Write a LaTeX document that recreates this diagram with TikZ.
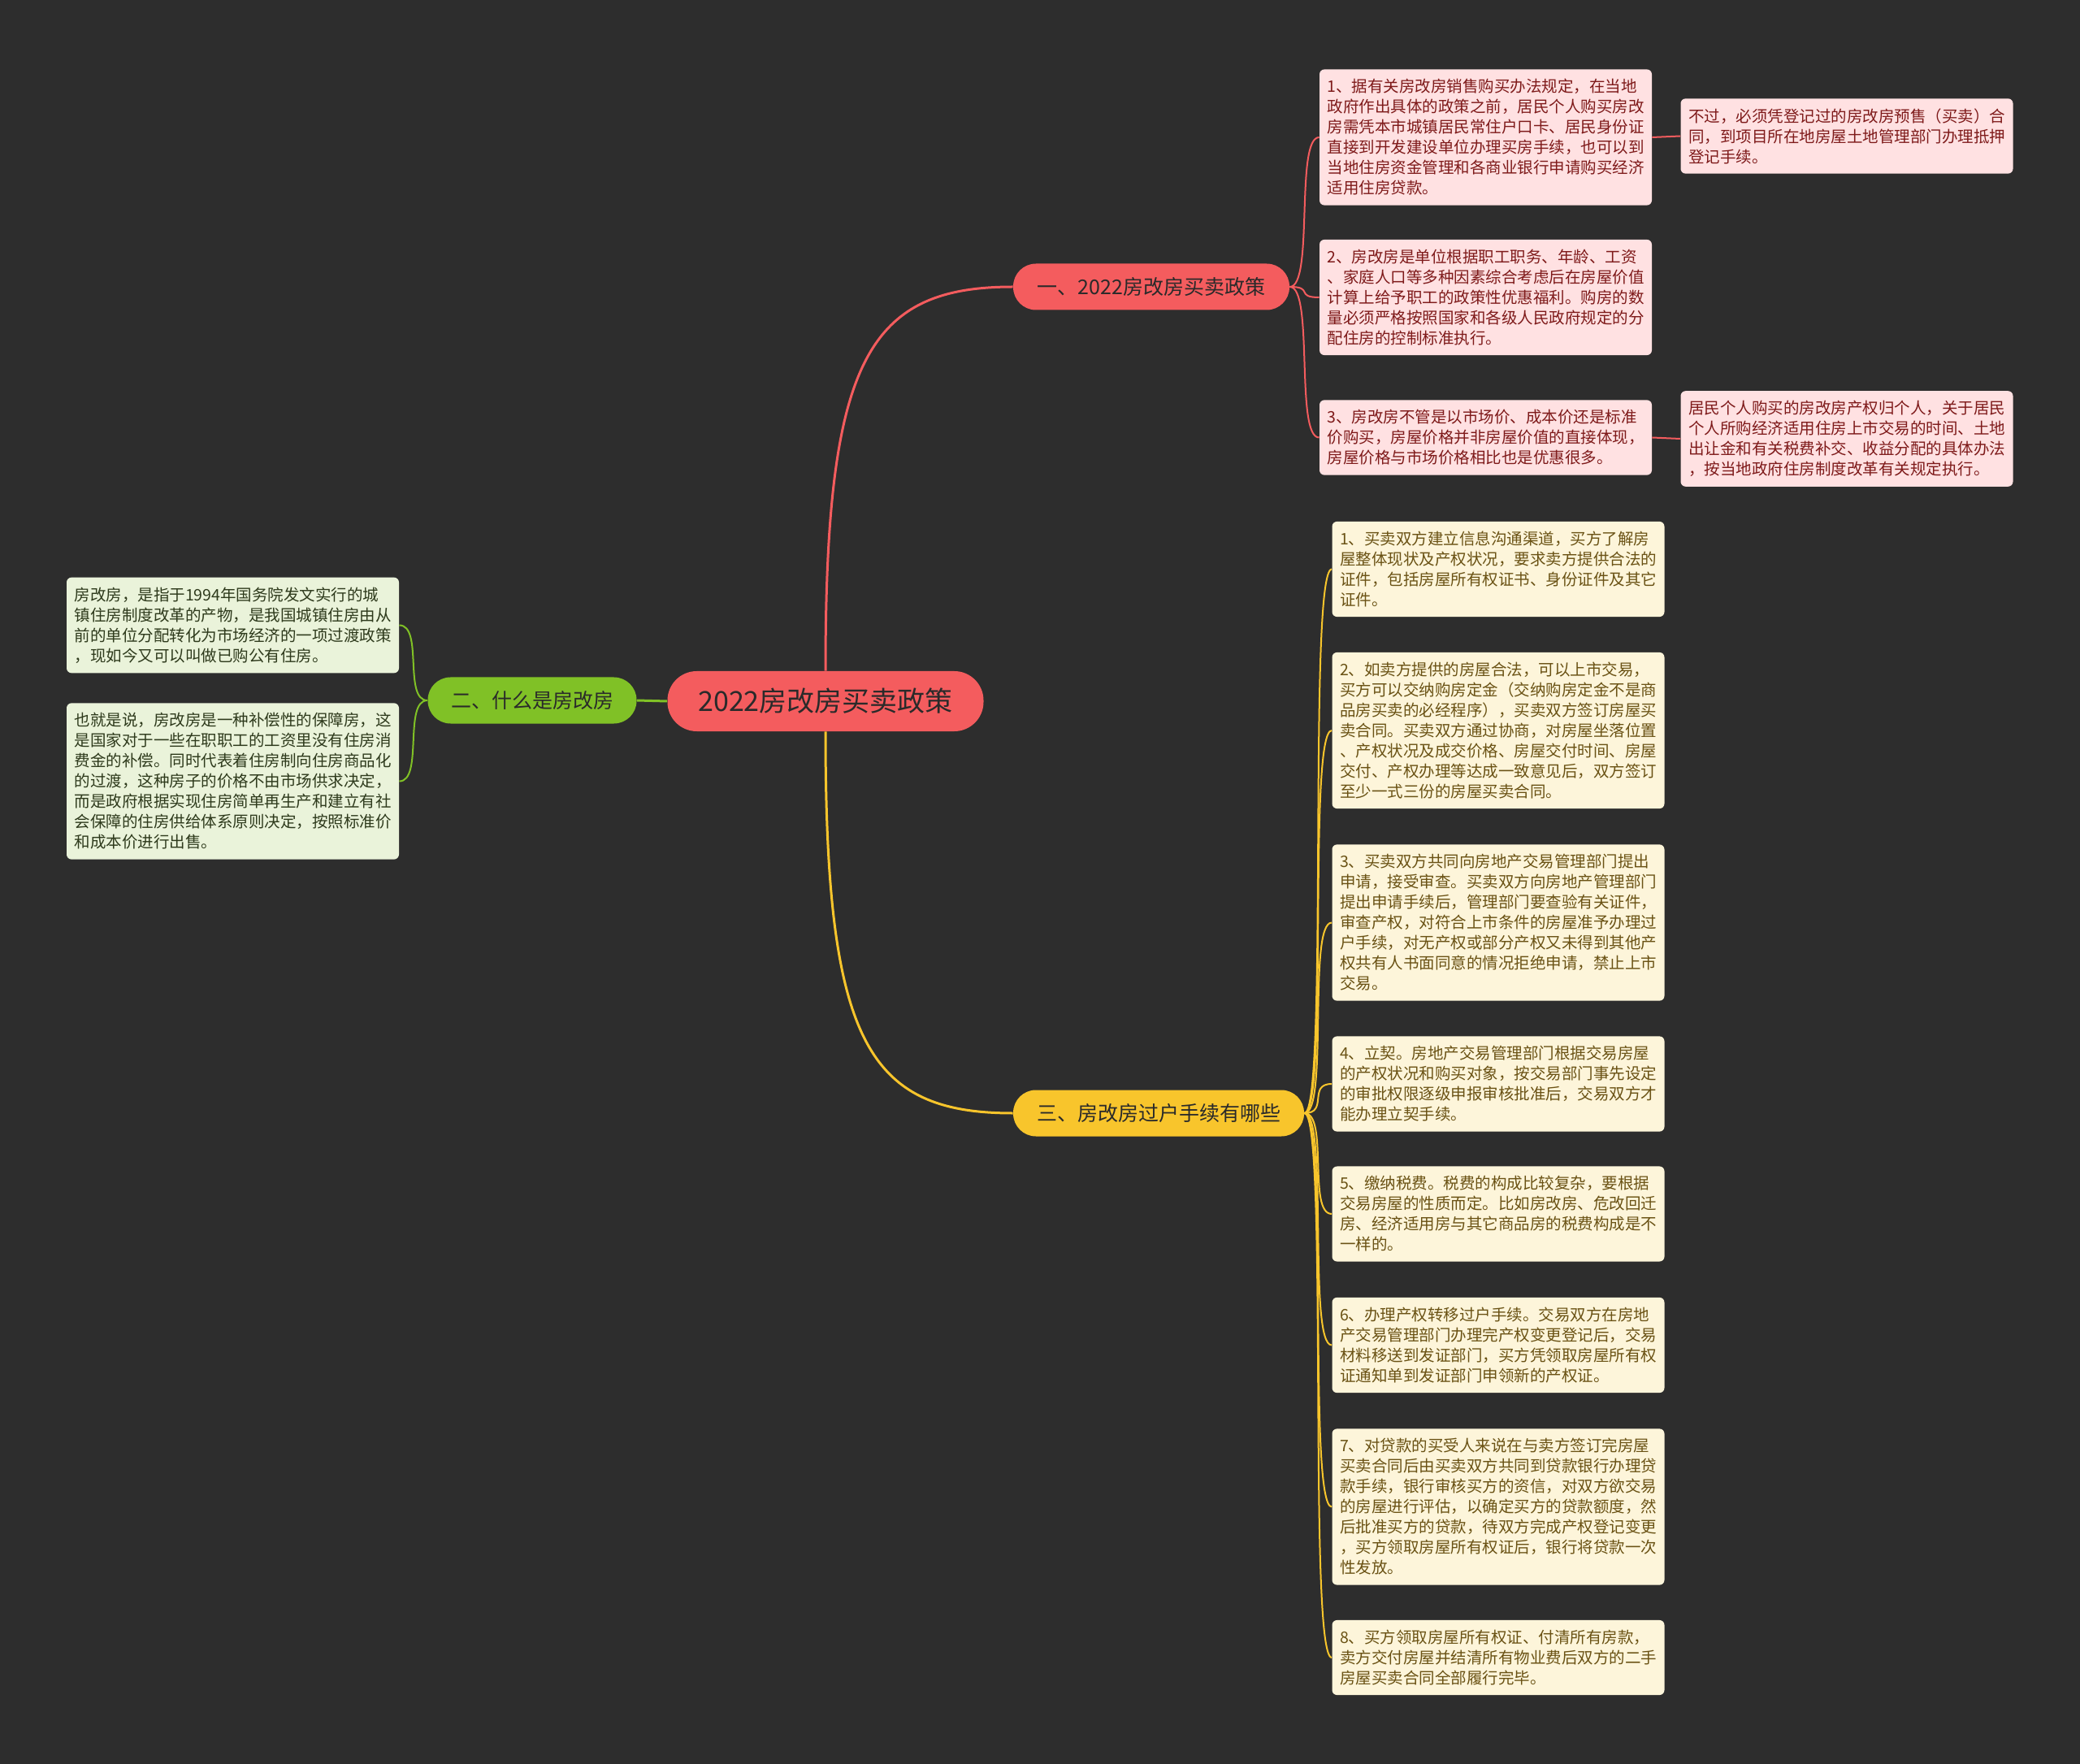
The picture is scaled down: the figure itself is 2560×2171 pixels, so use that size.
\documentclass[tikz,border=0pt]{standalone}
\usepackage{fontspec}
\newfontfamily\cjk{Noto Sans CJK SC}
\usetikzlibrary{positioning}
\definecolor{bg}{HTML}{2D2D2D}
\definecolor{ink}{HTML}{2A2A2A}
\definecolor{rootred}{HTML}{F45C5E}
\definecolor{topgreen}{HTML}{80C126}
\definecolor{topyellow}{HTML}{F8C52C}
\definecolor{pinkbg}{HTML}{FFE1E2}
\definecolor{pinkink}{HTML}{7E1A1A}
\definecolor{greenbg}{HTML}{EAF3DA}
\definecolor{greenink}{HTML}{2E3A1C}
\definecolor{creambg}{HTML}{FDF5DA}
\definecolor{creamink}{HTML}{6A5214}
\tikzset{
  root/.style={fill=rootred, text=ink, rounded corners=18pt, minimum width=194.5pt,
               minimum height=37pt, font=\cjk\fontsize{17}{20}\selectfont},
  topic/.style={text=ink, rounded corners=14pt, minimum height=28.5pt,
                font=\cjk\fontsize{12.5}{15}\selectfont},
  leaf/.style={rounded corners=3pt, text width=195pt, align=left, inner xsep=4.75pt,
               inner ysep=6pt, font=\cjk\fontsize{9.75}{12.5}\selectfont},
  redleaf/.style={leaf, fill=pinkbg, text=pinkink},
  greenleaf/.style={leaf, fill=greenbg, text=greenink},
  yellowleaf/.style={leaf, fill=creambg, text=creamink},
  trunk/.style={line width=1.5pt},
  twig/.style={line width=1pt},
}

\begin{document}
\begin{tikzpicture}[x=0.5pt, y=-0.5pt]
    \path[use as bounding box, fill=bg] (0,0) rectangle (2560,2171);

    % centre and the three topics
    \node[root] (root) at (1016,863) {2022房改房买卖政策};
    \node[topic, fill=rootred, minimum width=170pt] (policy) at (1417,353) {一、2022房改房买卖政策};
    \node[topic, fill=topgreen, minimum width=128.5pt] (what) at (655,862) {二、什么是房改房};
    \node[topic, fill=topyellow, minimum width=179pt] (steps) at (1426,1370) {三、房改房过户手续有哪些};

    % policy leaves
    \node[redleaf] (pol1) at (1828.5,169) {1、据有关房改房销售购买办法规定，在当地\\政府作出具体的政策之前，居民个人购买房改\\房需凭本市城镇居民常住户口卡、居民身份证\\直接到开发建设单位办理买房手续，也可以到\\当地住房资金管理和各商业银行申请购买经济\\适用住房贷款。};
    \node[redleaf] (pol1x) at (2273,167.5) {不过，必须凭登记过的房改房预售（买卖）合\\同，到项目所在地房屋土地管理部门办理抵押\\登记手续。};
    \node[redleaf] (pol2) at (1828.5,366) {2、房改房是单位根据职工职务、年龄、工资\\、家庭人口等多种因素综合考虑后在房屋价值\\计算上给予职工的政策性优惠福利。购房的数\\量必须严格按照国家和各级人民政府规定的分\\配住房的控制标准执行。};
    \node[redleaf] (pol3) at (1828.5,538.5) {3、房改房不管是以市场价、成本价还是标准\\价购买，房屋价格并非房屋价值的直接体现，\\房屋价格与市场价格相比也是优惠很多。};
    \node[redleaf] (pol3x) at (2273,540) {居民个人购买的房改房产权归个人，关于居民\\个人所购经济适用住房上市交易的时间、土地\\出让金和有关税费补交、收益分配的具体办法\\，按当地政府住房制度改革有关规定执行。};

    % what leaves
    \node[greenleaf] (what1) at (286.5,769.5) {房改房，是指于1994年国务院发文实行的城\\镇住房制度改革的产物，是我国城镇住房由从\\前的单位分配转化为市场经济的一项过渡政策\\，现如今又可以叫做已购公有住房。};
    \node[greenleaf] (what2) at (286.5,961.5) {也就是说，房改房是一种补偿性的保障房，这\\是国家对于一些在职职工的工资里没有住房消\\费金的补偿。同时代表着住房制向住房商品化\\的过渡，这种房子的价格不由市场供求决定，\\而是政府根据实现住房简单再生产和建立有社\\会保障的住房供给体系原则决定，按照标准价\\和成本价进行出售。};

    % steps leaves
    \node[yellowleaf] (st1) at (1844,700.5) {1、买卖双方建立信息沟通渠道，买方了解房\\屋整体现状及产权状况，要求卖方提供合法的\\证件，包括房屋所有权证书、身份证件及其它\\证件。};
    \node[yellowleaf] (st2) at (1844,899) {2、如卖方提供的房屋合法，可以上市交易，\\买方可以交纳购房定金（交纳购房定金不是商\\品房买卖的必经程序），买卖双方签订房屋买\\卖合同。买卖双方通过协商，对房屋坐落位置\\、产权状况及成交价格、房屋交付时间、房屋\\交付、产权办理等达成一致意见后，双方签订\\至少一式三份的房屋买卖合同。};
    \node[yellowleaf] (st3) at (1844,1135.5) {3、买卖双方共同向房地产交易管理部门提出\\申请，接受审查。买卖双方向房地产管理部门\\提出申请手续后，管理部门要查验有关证件，\\审查产权，对符合上市条件的房屋准予办理过\\户手续，对无产权或部分产权又未得到其他产\\权共有人书面同意的情况拒绝申请，禁止上市\\交易。};
    \node[yellowleaf] (st4) at (1844,1334) {4、立契。房地产交易管理部门根据交易房屋\\的产权状况和购买对象，按交易部门事先设定\\的审批权限逐级申报审核批准后，交易双方才\\能办理立契手续。};
    \node[yellowleaf] (st5) at (1844,1494) {5、缴纳税费。税费的构成比较复杂，要根据\\交易房屋的性质而定。比如房改房、危改回迁\\房、经济适用房与其它商品房的税费构成是不\\一样的。};
    \node[yellowleaf] (st6) at (1844,1655.5) {6、办理产权转移过户手续。交易双方在房地\\产交易管理部门办理完产权变更登记后，交易\\材料移送到发证部门，买方凭领取房屋所有权\\证通知单到发证部门申领新的产权证。};
    \node[yellowleaf] (st7) at (1844,1854.5) {7、对贷款的买受人来说在与卖方签订完房屋\\买卖合同后由买卖双方共同到贷款银行办理贷\\款手续，银行审核买方的资信，对双方欲交易\\的房屋进行评估，以确定买方的贷款额度，然\\后批准买方的贷款，待双方完成产权登记变更\\，买方领取房屋所有权证后，银行将贷款一次\\性发放。};
    \node[yellowleaf] (st8) at (1844,2040) {8、买方领取房屋所有权证、付清所有房款，\\卖方交付房屋并结清所有物业费后双方的二手\\房屋买卖合同全部履行完毕。};

    % connectors
    \draw[trunk, rootred] (root.north) .. controls +(0,-380) and +(-180,0) .. (policy.west);
    \draw[trunk, topyellow] (root.south) .. controls +(0,380) and +(-180,0) .. (steps.west);
    \draw[trunk, topgreen] (root.west) -- (what.east);
    \foreach \n in {pol1,pol2,pol3}
      \draw[twig, rootred] (policy.east) .. controls +(30,0) and +(-30,0) .. (\n.west);
    \draw[twig, rootred] (pol1.east) -- (pol1x.west);
    \draw[twig, rootred] (pol3.east) -- (pol3x.west);
    \foreach \n in {what1,what2}
      \draw[twig, topgreen] (what.west) .. controls +(-30,0) and +(30,0) .. (\n.east);
    \foreach \n in {st1,st2,st3,st4,st5,st6,st7,st8}
      \draw[twig, topyellow] (steps.east) .. controls +(30,0) and +(-30,0) .. (\n.west);
\end{tikzpicture}
\end{document}
